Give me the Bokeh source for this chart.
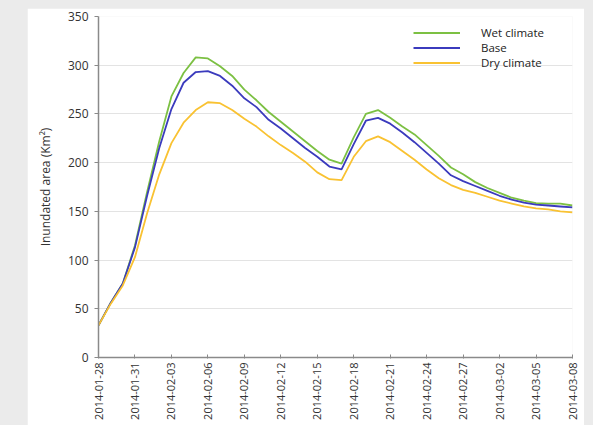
import pandas as pd
from math import pi
from bokeh.plotting import figure
from bokeh.models import FixedTicker, DatetimeTickFormatter, Range1d, Legend, LegendItem
from bokeh.embed import file_html
from bokeh.resources import INLINE

start_date = "2014-01-28"
end_date = "2014-03-08"

wet_climate = [33, 56, 76, 115, 170, 222, 268, 292, 308, 307, 299, 289, 275, 264, 252,
               242, 232, 222, 212, 203, 199, 226, 250, 254, 246, 237, 229, 218, 207, 195,
               188, 180, 174, 169, 164, 161, 158.5, 158, 158, 156]
base = [33, 56, 76, 113, 166, 215, 255, 282, 293, 294, 289, 279, 266, 257, 244,
        235, 225, 215, 206, 196, 193, 219, 243, 246, 240, 231, 221, 210, 199, 187,
        181, 176, 171, 166, 162, 159, 157, 156, 155, 154]
dry_climate = [33, 55, 74, 103, 148, 188, 220, 241, 254, 262, 261, 254, 245, 237, 227,
               218, 210, 201, 190, 183, 182, 206, 222, 227, 221, 212, 203, 193, 184, 177,
               172, 169, 165, 161, 158, 155, 153, 152, 150, 149]

tick_labels = ["2014-01-28", "2014-01-31", "2014-02-03", "2014-02-06", "2014-02-09",
               "2014-02-12", "2014-02-15", "2014-02-18", "2014-02-21", "2014-02-24",
               "2014-02-27", "2014-03-02", "2014-03-05", "2014-03-08"]
y_ticks = [0, 50, 100, 150, 200, 250, 300, 350]

series_names = ["Wet climate", "Base", "Dry climate"]
series_colors = ["#7cc043", "#3b3bbd", "#f9c232"]

dates = pd.date_range(start_date, end_date, freq="D")
tick_ms = [pd.Timestamp(t).value // 10**6 for t in tick_labels]

FONT = "Open Sans"

p = figure(width=557, height=417, x_axis_type="datetime",
           output_backend="svg", toolbar_location=None,
           x_range=Range1d(pd.Timestamp(start_date), pd.Timestamp(end_date)),
           y_range=Range1d(0, 350),
           min_border_left=71, min_border_right=12, min_border_top=8, min_border_bottom=68)
p.border_fill_color = "white"
p.background_fill_color = "white"
p.outline_line_color = None

renderers = []
for vals, col in zip([wet_climate, base, dry_climate], series_colors):
    r = p.line(dates, vals, line_color=col, line_width=1.8)
    renderers.append(r)

legend = Legend(items=[LegendItem(label=n, renderers=[r]) for n, r in zip(series_names, renderers)],
                location=(315, 287))
legend.border_line_color = None
legend.background_fill_alpha = 0
legend.padding = 0
legend.margin = 0
legend.spacing = 0
legend.glyph_width = 47
legend.glyph_height = 13
legend.label_height = 13
legend.label_standoff = 21
legend.label_text_font = FONT
legend.label_text_font_size = "11.5px"
legend.label_text_color = "#222222"
p.add_layout(legend)

p.xaxis.ticker = FixedTicker(ticks=tick_ms)
p.xaxis.formatter = DatetimeTickFormatter(days="%Y-%m-%d", months="%Y-%m-%d", years="%Y-%m-%d")
p.xaxis.major_label_orientation = pi / 2
p.xaxis.major_label_text_font = FONT
p.xaxis.major_label_text_font_size = "11px"
p.xaxis.major_label_text_color = "#333333"
p.xaxis.axis_line_color = "#8a8a8a"
p.xaxis.axis_line_width = 1.5
p.xaxis.major_tick_line_color = "#8a8a8a"
p.xaxis.major_tick_in = 3
p.xaxis.major_tick_out = 1
p.xaxis.minor_tick_line_color = None
p.xaxis.major_label_standoff = 4

p.yaxis.ticker = FixedTicker(ticks=y_ticks)
p.yaxis.axis_label = "Inundated area (Km²)"
p.yaxis.axis_label_text_font = FONT
p.yaxis.axis_label_text_font_size = "12px"
p.yaxis.axis_label_text_font_style = "normal"
p.yaxis.axis_label_text_color = "#333333"
p.yaxis.axis_label_standoff = 11
p.yaxis.major_label_text_font = FONT
p.yaxis.major_label_text_font_size = "12px"
p.yaxis.major_label_text_color = "#333333"
p.yaxis.axis_line_color = "#8a8a8a"
p.yaxis.axis_line_width = 1.5
p.yaxis.major_tick_line_color = "#8a8a8a"
p.yaxis.major_tick_in = 0
p.yaxis.major_tick_out = 4
p.yaxis.minor_tick_line_color = None
p.yaxis.major_label_standoff = 6

p.xgrid.grid_line_color = None
p.ygrid.grid_line_color = "#e3e3e3"
p.ygrid.grid_line_width = 1

html = file_html(p, INLINE)
page_css = ("<style>html, body { background-color: #ebebeb !important; overflow: hidden !important; } "
            "body { box-sizing: border-box !important; margin: 0 !important; "
            "padding: 8px 0 0 27px !important; }</style>")
html = html.replace("</head>", page_css + "</head>", 1)
open("out.html", "w").write(html)
